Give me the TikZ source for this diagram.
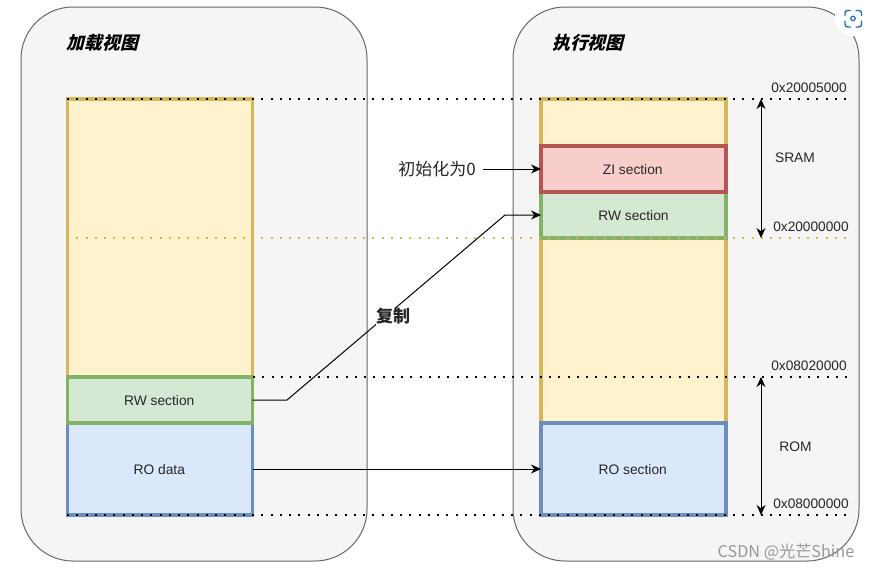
\documentclass[tikz,border=0pt]{standalone}
\usepackage{fontspec}
\setmainfont{Liberation Sans}
\newfontfamily\cjk{Noto Sans CJK SC}
\usetikzlibrary{arrows.meta}
\definecolor{panelfill}{HTML}{F5F5F5}
\definecolor{panelline}{HTML}{666666}
\definecolor{yfill}{HTML}{FFF2CC}
\definecolor{yline}{HTML}{D6B656}
\definecolor{gfill}{HTML}{D5E8D4}
\definecolor{gline}{HTML}{82B366}
\definecolor{bfill}{HTML}{DAE8FC}
\definecolor{bline}{HTML}{6C8EBF}
\definecolor{rfill}{HTML}{F8CECC}
\definecolor{rline}{HTML}{B85450}
\definecolor{iconblue}{HTML}{1A6FC4}
\newcommand{\lowtext}[1]{\raisebox{0pt}[\dimexpr\height+2pt\relax]{#1}}
\newcommand{\boxtext}[1]{\hspace*{-1.5pt}\lowtext{#1}}
\tikzset{
  x=1pt,y=-1pt,
  panel/.style={draw=panelline,fill=panelfill,line width=1pt,rounded corners=52pt},
  region/.style={line width=3.4pt,inner sep=0pt,outer sep=0pt,minimum width=185pt,anchor=north west,font=\fontsize{13.8}{15}\selectfont,text=black!85},
  yregion/.style={region,draw=yline,fill=yfill},
  gregion/.style={region,draw=gline,fill=gfill},
  bregion/.style={region,draw=bline,fill=bfill},
  rregion/.style={region,draw=rline,fill=rfill},
  dotline/.style={line width=2pt,dash pattern=on 2pt off 7.25pt},
  conn/.style={line width=1pt,-{Stealth[length=10pt,width=9pt]}},
  bothway/.style={line width=1pt,{Stealth[length=10pt,width=9pt]}-{Stealth[length=10pt,width=9pt]}},
  addr/.style={font=\fontsize{13.7}{15}\selectfont,text=black!85,inner sep=0pt},
  lbl/.style={font=\fontsize{13.8}{15}\selectfont,text=black!85,inner sep=0pt},
  title/.style={font=\cjk\fontsize{17.8}{19}\selectfont\bfseries,inner sep=0pt,xslant=0.25}
}
\begin{document}
\begin{tikzpicture}
\useasboundingbox (0,0) rectangle (870,570);
\fill[white] (0,0) rectangle (870,570);
\draw[panel] (21,7) rectangle (367,561);
\draw[panel] (513,7) rectangle (859,561);
\node[title] (ltitle) at (104,42.5) {加载视图};
\node[title] (rtitle) at (589.5,42.5) {执行视图};
% left column
\node[yregion,minimum height=278pt] (lram) at (67.5,99) {};
\node[bregion,minimum height=92pt] (lro) at (67.5,423) {\boxtext{RO data}};
\node[gregion,minimum height=46pt] (lrw) at (67.5,377) {\boxtext{RW section}};
% right column
\node[yregion,minimum height=324pt] (rram) at (541,99) {};
\node[bregion,minimum height=92pt] (rro) at (541,423) {\boxtext{RO section}};
\node[gregion,minimum height=46pt] (rrw) at (541,192) {\lowtext{RW section}};
\node[rregion,minimum height=46pt] (rzi) at (541,146) {\boxtext{ZI section}};
% dotted guides
\draw[dotline] (67,99) -- (847,99);
\draw[dotline,yline] (67,238) -- (847,238);
\draw[dotline] (253,377) -- (847,377);
\draw[dotline] (67,515) -- (847,515);
% connectors
\coordinate (bend1) at (287,400);
\coordinate (bend2) at (505,215);
\draw[conn] (lrw.east) -- (bend1) -- (bend2) -- (rrw.west);
\draw[conn] (lro.east) -- (rro.west);
\node[font=\cjk\fontsize{17}{19}\selectfont,inner sep=0pt,text=black!85] (init) at (437,169.5) {初始化为0};
\coordinate (initout) at (483,169);
\draw[conn] (initout) -- (rzi.west);
\node[font=\cjk\fontsize{17}{19}\selectfont\bfseries,inner sep=0pt,text=black!85,fill=white] (copy) at (393,316.5) {复制};
% ranges
\coordinate (s1) at (761,99);
\coordinate (s2) at (761,238);
\coordinate (r1) at (761,377);
\coordinate (r2) at (761,515);
\draw[bothway] (s1) -- (s2);
\draw[bothway] (r1) -- (r2);
\node[lbl] (sram) at (795,158) {SRAM};
\node[lbl] (rom) at (795.5,447) {ROM};
\node[addr] (a1) at (809,88) {0x20005000};
\node[addr] (a2) at (811,227) {0x20000000};
\node[addr] (a3) at (809,366) {0x08020000};
\node[addr] (a4) at (811,504) {0x08000000};
% watermark and corner icon
\node[font=\cjk\fontsize{16.2}{18}\selectfont,text=black!40,inner sep=0pt] (mark) at (786,552.5) {CSDN @光芒Shine};
\fill[white] (853,18) circle (18);
\draw[line width=1.4pt,iconblue,line cap=round,rounded corners=2.5pt]
  (845,15.5) -- (845,10.5) -- (850.5,10.5)
  (856,10.5) -- (861.5,10.5) -- (861.5,15.5)
  (861.5,21) -- (861.5,27) -- (856,27)
  (850.5,27) -- (845,27) -- (845,21);
\draw[line width=1.2pt,iconblue] (853,18.5) circle (2.2);
\end{tikzpicture}
\end{document}
